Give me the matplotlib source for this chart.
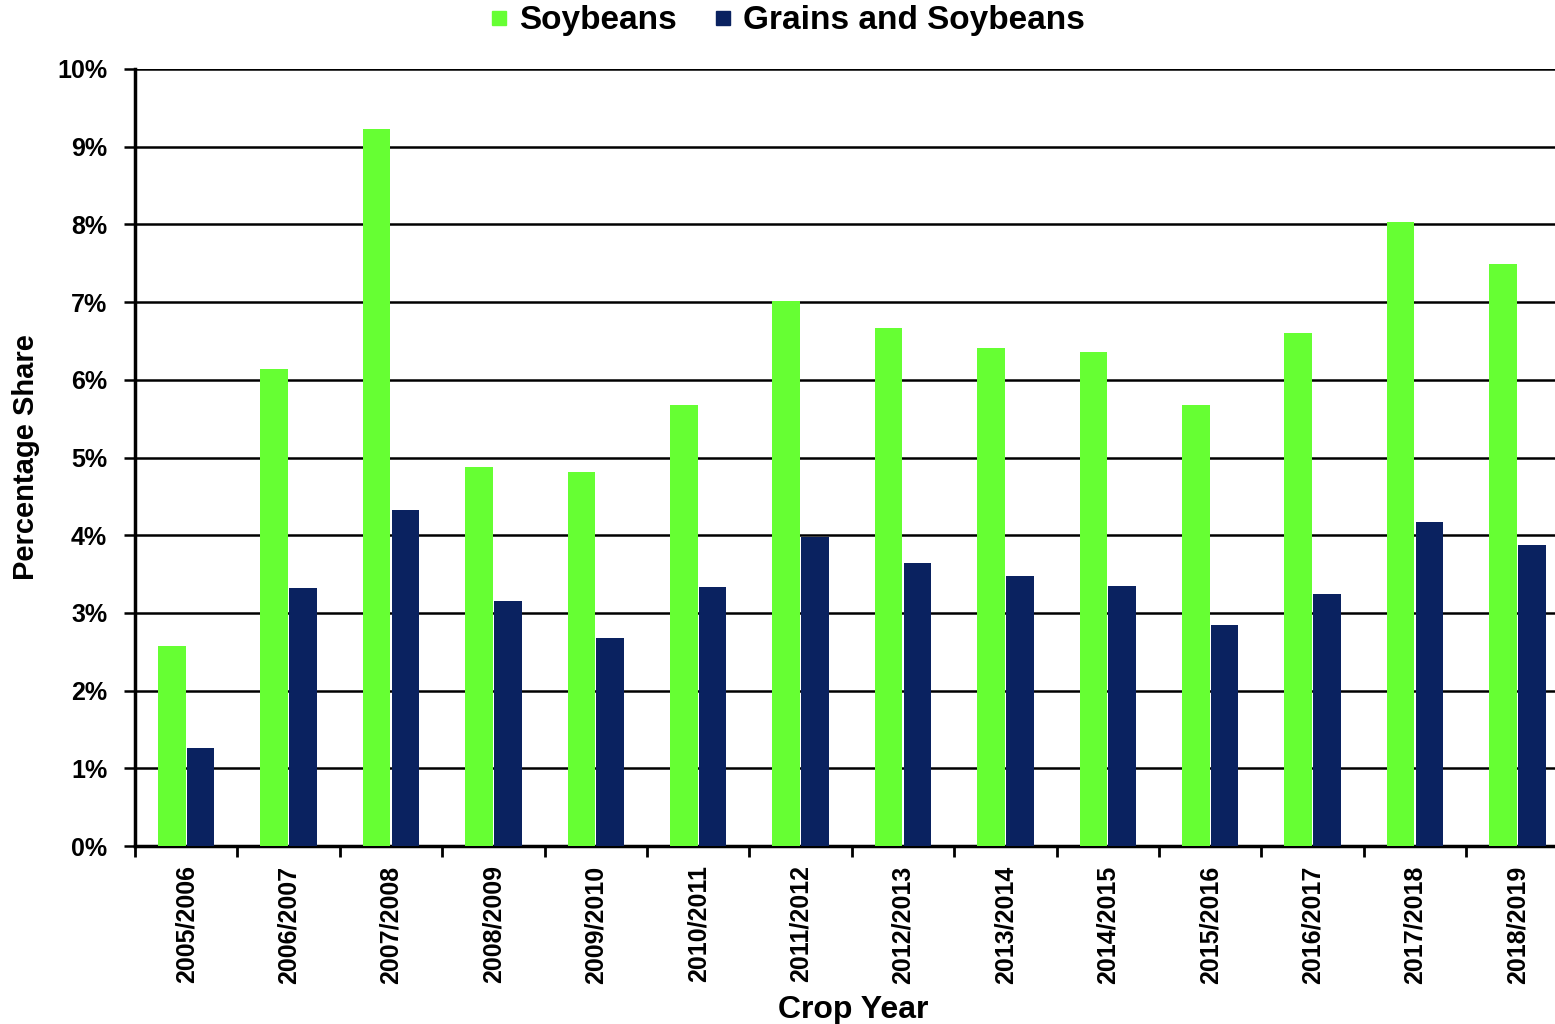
import numpy as np
import matplotlib
matplotlib.use('Agg')
import matplotlib.pyplot as plt
from matplotlib.lines import Line2D
from matplotlib.ticker import FixedLocator, PercentFormatter

plt.rcParams['font.family'] = ['Liberation Sans', 'DejaVu Sans']
plt.rcParams['font.weight'] = 'bold'

# data
years = ['2005/2006', '2006/2007', '2007/2008', '2008/2009', '2009/2010',
         '2010/2011', '2011/2012', '2012/2013', '2013/2014', '2014/2015',
         '2015/2016', '2016/2017', '2017/2018', '2018/2019']
soybeans = [2.57, 6.14, 9.23, 4.88, 4.81, 5.68, 7.01, 6.67, 6.41, 6.36,
            5.68, 6.60, 8.03, 7.49]
grains_soy = [1.26, 3.32, 4.32, 3.15, 2.68, 3.33, 3.98, 3.64, 3.47, 3.35,
              2.84, 3.24, 4.17, 3.87]

green = '#66ff33'
navy = '#0a2260'

fig = plt.figure(figsize=(15.55, 10.24), dpi=100)
ax = fig.add_axes([135/1555, 178/1024, 1 - 135/1555, (846-69)/1024])

x = np.arange(len(years))
w = 0.27
ax.bar(x - w/2 - 0.005, soybeans, w, color=green, zorder=3)
ax.bar(x + w/2 + 0.005, grains_soy, w, color=navy, zorder=3)

ax.set_ylim(0, 10)
ax.set_xlim(-0.5, (1555-135)/102.4 - 0.5)
ax.set_yticks(np.arange(0, 11, 1))
ax.yaxis.set_major_formatter(PercentFormatter(decimals=0))
ax.grid(axis='y', color='black', linewidth=1.8, zorder=0)

ax.set_xticks(x)
ax.set_xticklabels(years, rotation=90, fontsize=18, fontweight='bold')
ax.tick_params(axis='x', which='major', length=0, pad=14)
ax.xaxis.set_minor_locator(FixedLocator(np.arange(-0.5, 14, 1)))
ax.tick_params(axis='x', which='minor', length=8, width=2, direction='out')
ax.tick_params(axis='y', labelsize=18, length=8, width=1.8, pad=12)
for lab in ax.get_yticklabels():
    lab.set_fontweight('bold')

for s in ['top', 'right']:
    ax.spines[s].set_visible(False)
ax.spines['left'].set_linewidth(2.5)
ax.spines['bottom'].set_linewidth(2.5)

ax.set_xlabel('Crop Year', fontsize=23, fontweight='bold')
ax.xaxis.set_label_coords(0.5 + 8/1420, (14 - 178)/777)
ax.xaxis.label.set_va('center')
ax.set_ylabel('Percentage Share', fontsize=21, fontweight='bold', labelpad=12)

handles = [Line2D([], [], marker='s', linestyle='none', color=green, markersize=9.5),
           Line2D([], [], marker='s', linestyle='none', color=navy, markersize=9.5)]
fig.legend(handles, ['Soybeans', 'Grains and Soybeans'], loc='center',
           bbox_to_anchor=(0.5 + 8/1555, 1 - 21/1024), ncol=2, frameon=False,
           prop={'size': 24, 'weight': 'bold'}, handletextpad=0.2,
           columnspacing=1.0, handlelength=0.8)

fig.savefig('out.png', dpi=100)
